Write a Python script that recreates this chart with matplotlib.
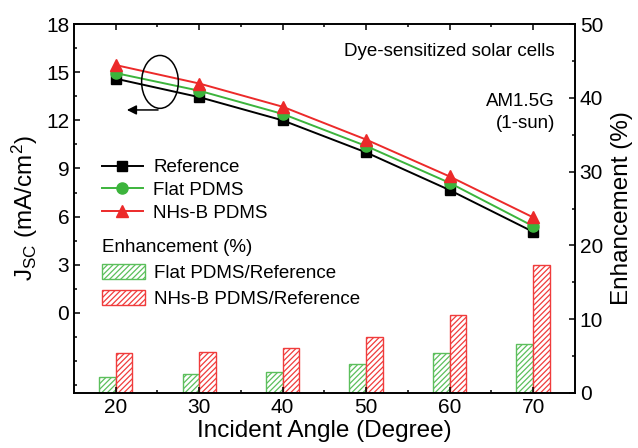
import matplotlib.pyplot as plt
from matplotlib.patches import Ellipse
import numpy as np

plt.rcParams['font.family'] = ['Liberation Sans', 'DejaVu Sans']
plt.rcParams['mathtext.fontset'] = 'custom'
plt.rcParams['mathtext.rm'] = 'Liberation Sans'
plt.rcParams['mathtext.it'] = 'Liberation Sans:italic'
plt.rcParams['hatch.linewidth'] = 0.9

# data
angles = [20, 30, 40, 50, 60, 70]
jsc_ref = [14.6, 13.45, 12.0, 10.0, 7.65, 5.05]
jsc_flat = [14.95, 13.85, 12.4, 10.4, 8.1, 5.4]
jsc_nhs = [15.45, 14.3, 12.85, 10.8, 8.5, 5.95]
enh_flat = [2.2, 2.5, 2.9, 3.9, 5.4, 6.6]
enh_nhs = [5.4, 5.6, 6.1, 7.6, 10.6, 17.3]

GREEN = '#3cb43c'
RED = '#ec2a2a'

fig = plt.figure(figsize=(6.38, 4.48), dpi=100)
ax = fig.add_axes([0.116, 0.123, 0.785, 0.823])
ax2 = ax.twinx()

x = np.array(angles)

# enhancement bars (right axis)
ax2.bar(x - 1, enh_flat, width=2, facecolor='white', edgecolor='#5cbf5c',
        hatch='//////', lw=1.0, label='Flat PDMS/Reference')
ax2.bar(x + 1, enh_nhs, width=2, facecolor='white', edgecolor='#f03c3c',
        hatch='//////', lw=1.0, label='NHs-B PDMS/Reference')

# Jsc lines (left axis)
ax.plot(x, jsc_ref, '-s', color='black', lw=1.4, ms=7.5, label='Reference', zorder=3)
ax.plot(x, jsc_flat, '-o', color=GREEN, lw=1.4, ms=8, label='Flat PDMS', zorder=4)
ax.plot(x, jsc_nhs, '-^', color=RED, lw=1.4, ms=9, label='NHs-B PDMS', zorder=5)
ax.set_zorder(ax2.get_zorder() + 1)
ax.patch.set_visible(False)

ax.set_xlim(15, 75)
ax.set_ylim(-5, 18)
ax2.set_ylim(0, 50)
ax.set_xticks(angles)
ax.set_xticks(np.arange(25, 75, 10), minor=True)
ax.set_yticks(np.arange(0, 19, 3))
ax.set_yticks(np.arange(-4.5, 18, 1.5), minor=True)
ax2.set_yticks(np.arange(0, 51, 10))
ax2.set_yticks(np.arange(5, 50, 10), minor=True)

for a in (ax, ax2):
    for s in a.spines.values():
        s.set_linewidth(1.2)
ax.tick_params(axis='both', which='both', direction='in', labelsize=15, width=1.1)
ax.tick_params(axis='x', which='both', top=True)
ax.tick_params(which='major', length=4)
ax.tick_params(which='minor', length=2.5)
ax2.tick_params(which='both', direction='in', labelsize=15, width=1.1)
ax2.tick_params(which='major', length=4)
ax2.tick_params(which='minor', length=2.5)

ax.set_xlabel('Incident Angle (Degree)', fontsize=17.5, labelpad=2)
ax.set_ylabel(r'J$_{\mathrm{SC}}$ (mA/cm$^{2}$)', fontsize=17.5, labelpad=4)
ax2.set_ylabel('Enhancement (%)', fontsize=17.5, labelpad=6)

ax.text(72.6, 16.3, 'Dye-sensitized solar cells', ha='right', va='center', fontsize=13.5)
ax.text(72.6, 13.2, 'AM1.5G', ha='right', va='center', fontsize=13.5)
ax.text(72.6, 11.8, '(1-sun)', ha='right', va='center', fontsize=13.5)

ax.add_patch(Ellipse((25.3, 14.4), width=4.4, height=3.3, fill=False, ec='black', lw=1.1, zorder=6))
ax.annotate('', xy=(21.0, 12.65), xytext=(25.4, 12.65),
            arrowprops=dict(arrowstyle='-|>', color='black', lw=1.1, mutation_scale=14))

leg1 = ax.legend(loc='upper left', bbox_to_anchor=(0.055, 0.634), frameon=False,
                 fontsize=13.5, handlelength=2.2, handletextpad=0.55,
                 labelspacing=0.3, borderpad=0, borderaxespad=0)
leg2 = ax2.legend(loc='upper left', bbox_to_anchor=(0.055, 0.418), frameon=False,
                  fontsize=13.5, title='Enhancement (%)', title_fontsize=13.5,
                  alignment='left', handlelength=2.3, handleheight=0.8,
                  handletextpad=0.5, labelspacing=0.45, borderpad=0, borderaxespad=0)

fig.savefig('out.png', dpi=100)
